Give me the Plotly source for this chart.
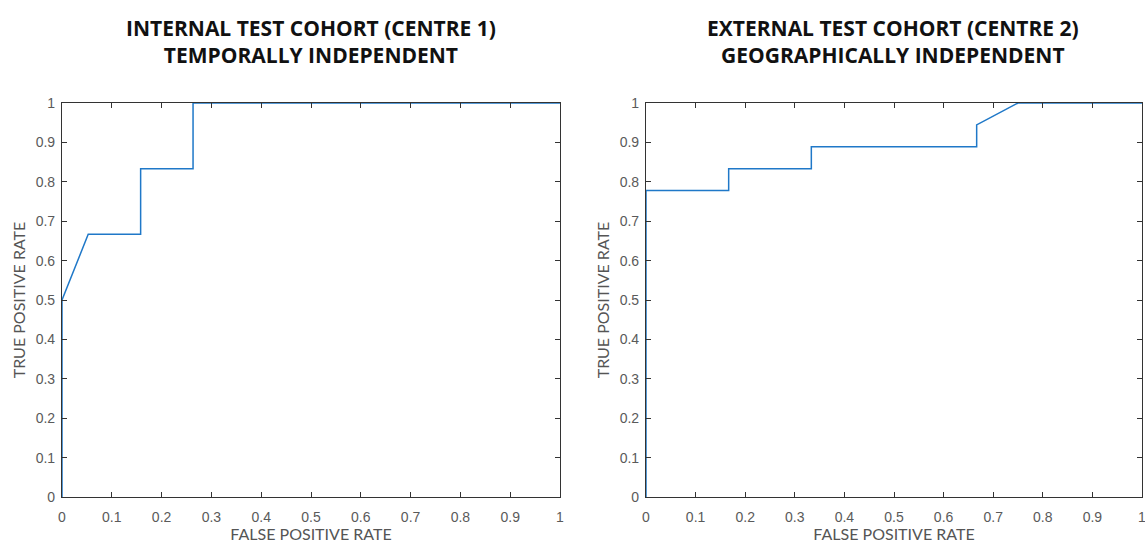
import plotly.graph_objects as go

# Internal test cohort (Centre 1) ROC
int_fpr = [0, 0, 1/19, 3/19, 3/19, 5/19, 5/19, 1]
int_tpr = [0, 0.5, 2/3, 2/3, 5/6, 5/6, 1, 1]

# External test cohort (Centre 2) ROC
ext_fpr = [0, 0, 1/6, 1/6, 1/3, 1/3, 2/3, 2/3, 0.75, 1]
ext_tpr = [0, 7/9, 7/9, 15/18, 15/18, 8/9, 8/9, 17/18, 1, 1]

tick_vals = [round(i * 0.1, 1) for i in range(11)]
tick_text = ["0", "0.1", "0.2", "0.3", "0.4", "0.5", "0.6", "0.7", "0.8", "0.9", "1"]

titles = ["INTERNAL TEST COHORT (CENTRE 1)<br>TEMPORALLY INDEPENDENT",
          "EXTERNAL TEST COHORT (CENTRE 2)<br>GEOGRAPHICALLY INDEPENDENT"]
x_title = "FALSE POSITIVE RATE"
y_title = "TRUE POSITIVE RATE"

W, H = 1145, 543
line_color = "#1f78c8"

fig = go.Figure()
fig.add_trace(go.Scatter(x=int_fpr, y=int_tpr, mode="lines",
                         line=dict(color=line_color, width=1.5),
                         xaxis="x", yaxis="y", showlegend=False, hoverinfo="x+y"))
fig.add_trace(go.Scatter(x=ext_fpr, y=ext_tpr, mode="lines",
                         line=dict(color=line_color, width=1.5),
                         xaxis="x2", yaxis="y2", showlegend=False, hoverinfo="x+y"))

ydom = [(H - 497) / H, (H - 103) / H]
xdoms = [[62 / W, 560 / W], [646 / W, 1142 / W]]

tick_font = dict(family="Liberation Sans, Arial, sans-serif", size=14, color="#5a5a5a")
title_font = dict(family="Lato, sans-serif", size=16, color="#555555")

def axis_common():
    return dict(range=[0, 1], tickvals=tick_vals, ticktext=tick_text,
                ticks="inside", ticklen=5, tickcolor="#333333", tickwidth=1,
                showline=True, linecolor="#333333", linewidth=1.2,
                mirror="allticks", showgrid=False, zeroline=False,
                tickfont=tick_font, fixedrange=True, automargin=False,
                ticklabeloverflow="allow")

layout = dict(
    width=W, height=H,
    margin=dict(l=0, r=0, t=0, b=0, autoexpand=False),
    paper_bgcolor="white", plot_bgcolor="white",
    xaxis=dict(domain=xdoms[0], anchor="y", **axis_common(), ticklabelstandoff=7,
               title=dict(text=x_title, font=title_font, standoff=1)),
    yaxis=dict(domain=ydom, anchor="x", **axis_common(), ticklabelstandoff=3,
               title=dict(text=y_title, font=title_font, standoff=6)),
    xaxis2=dict(domain=xdoms[1], anchor="y2", **axis_common(), ticklabelstandoff=7,
                title=dict(text=x_title, font=title_font, standoff=1)),
    yaxis2=dict(domain=ydom, anchor="x2", **axis_common(), ticklabelstandoff=3,
                title=dict(text=y_title, font=title_font, standoff=6)),
)
fig.update_layout(**layout)

centres = [311 / W, 893 / W]
for t, cx in zip(titles, centres):
    fig.add_annotation(text="<b>" + t + "</b>", x=cx, y=(H - 12) / H,
                       xref="paper", yref="paper", xanchor="center", yanchor="top",
                       showarrow=False, align="center",
                       font=dict(family="Open Sans, sans-serif", size=21, color="#111111"))

fig.write_html("out.html", config={"displayModeBar": False},
               post_script="document.body.style.margin='0';")
